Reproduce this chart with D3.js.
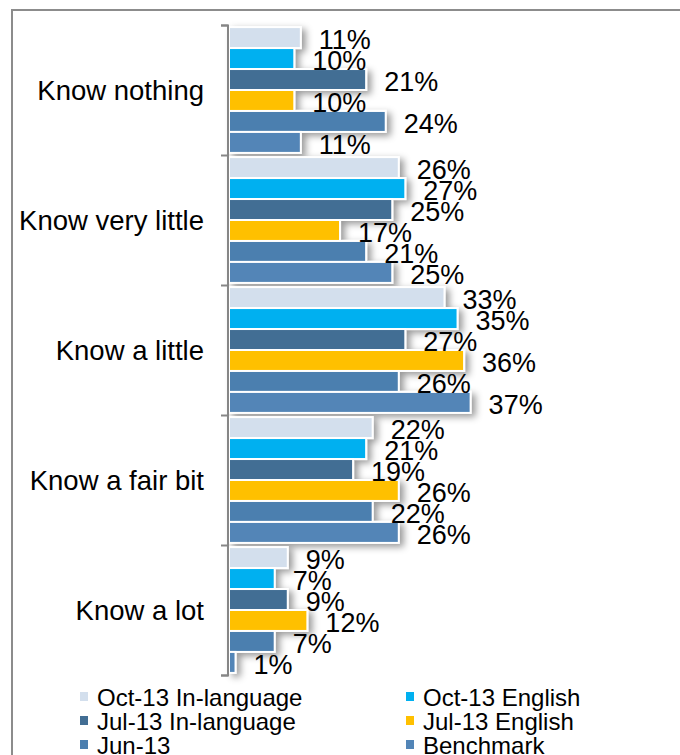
<!DOCTYPE html>
<html>
<head>
<meta charset="utf-8">
<script src="https://cdn.jsdelivr.net/npm/d3@7"></script>
<style>
  html, body { margin: 0; padding: 0; background: #fff; overflow: hidden; }
  svg { display: block; }
</style>
</head>
<body>
<script>
const categories = ["Know nothing", "Know very little", "Know a little", "Know a fair bit", "Know a lot"];
const seriesNames = ["Oct-13 In-language", "Oct-13 English", "Jul-13 In-language", "Jul-13 English", "Jun-13", "Benchmark"];
const seriesColors = ["#D3DFED", "#00B0F0", "#426E94", "#FFC000", "#4C7FAF", "#5285B7"];
const oct13InLanguage = [11, 26, 33, 22, 9];
const oct13English    = [10, 27, 35, 21, 7];
const jul13InLanguage = [21, 25, 27, 19, 9];
const jul13English    = [10, 17, 36, 26, 12];
const jun13           = [24, 21, 26, 22, 7];
const benchmark       = [11, 25, 37, 26, 1];
const seriesValues = [oct13InLanguage, oct13English, jul13InLanguage, jul13English, jun13, benchmark];

const W = 680, H = 755;
const svg = d3.select("body").append("svg").attr("width", W).attr("height", H);

const defs = svg.append("defs");
const f = defs.append("filter").attr("id", "shadow")
  .attr("x", "-20%").attr("y", "-50%").attr("width", "160%").attr("height", "250%");
f.append("feDropShadow").attr("dx", 4).attr("dy", 3).attr("stdDeviation", 3.5)
  .attr("flood-color", "#000").attr("flood-opacity", 0.4);

// outer frame
svg.append("rect").attr("x", 12).attr("y", 10).attr("width", 700).attr("height", 800)
  .attr("fill", "none").attr("stroke", "#8C8C8C").attr("stroke-width", 2);

const x = d3.scaleLinear().domain([0, 40]).range([229, 229 + 40 * 6.53]);
const y = d3.scaleBand().domain(categories).range([25, 675]).padding(0);
const yInner = d3.scaleBand().domain(seriesNames).range([0, y.bandwidth()]).paddingInner(0).paddingOuter(0.1);

// bars
const rows = [];
categories.forEach((c, ci) => {
  seriesNames.forEach((s, si) => {
    rows.push({ cat: c, series: s, value: seriesValues[si][ci], color: seriesColors[si] });
  });
});

const barG = svg.append("g").attr("filter", "url(#shadow)");
barG.selectAll("rect").data(rows).join("rect")
  .attr("x", x(0))
  .attr("y", d => y(d.cat) + yInner(d.series))
  .attr("width", d => x(d.value) - x(0))
  .attr("height", yInner.bandwidth())
  .attr("fill", d => d.color)
  .attr("stroke", "#fff")
  .attr("stroke-width", 2);

// axis with ticks at category boundaries
const yBound = d3.scaleLinear().domain([0, categories.length]).range([25, 675]);
const axisG = svg.append("g").attr("transform", `translate(${x(0) - 1},0)`)
  .call(d3.axisLeft(yBound).ticks(categories.length).tickSize(7).tickFormat(""));
axisG.selectAll("path, line").attr("stroke", "#868686").attr("stroke-width", 2);
axisG.select(".domain").attr("d", `M-7,25.5H0V675.5H-7`);

// category labels
svg.append("g").selectAll("text").data(categories).join("text")
  .attr("x", 204)
  .attr("y", d => y(d) + y.bandwidth() / 2 + 9.5)
  .attr("text-anchor", "end")
  .attr("font-family", "'Liberation Sans', Arial, sans-serif")
  .attr("font-size", 27.5)
  .attr("fill", "#000")
  .text(d => d);

// data labels
svg.append("g").selectAll("text").data(rows).join("text")
  .attr("x", d => x(d.value) + 18)
  .attr("y", d => y(d.cat) + yInner(d.series) + yInner.bandwidth() / 2 + 11.5)
  .attr("font-family", "'Liberation Sans', Arial, sans-serif")
  .attr("font-size", 27)
  .attr("fill", "#000")
  .text(d => d.value + "%");

// legend
const legendCols = [80, 406];
const legendBase = [706, 730, 754];
const lg = svg.append("g").selectAll("g").data(seriesNames).join("g")
  .attr("transform", (d, i) => `translate(${legendCols[i % 2]},${legendBase[Math.floor(i / 2)]})`);
lg.append("rect").attr("x", 0).attr("y", -14).attr("width", 8).attr("height", 9)
  .attr("fill", (d, i) => seriesColors[i]);
lg.append("text").attr("x", 17).attr("y", 0)
  .attr("font-family", "'Liberation Sans', Arial, sans-serif")
  .attr("font-size", 24)
  .attr("fill", "#000")
  .text(d => d);
</script>
</body>
</html>
